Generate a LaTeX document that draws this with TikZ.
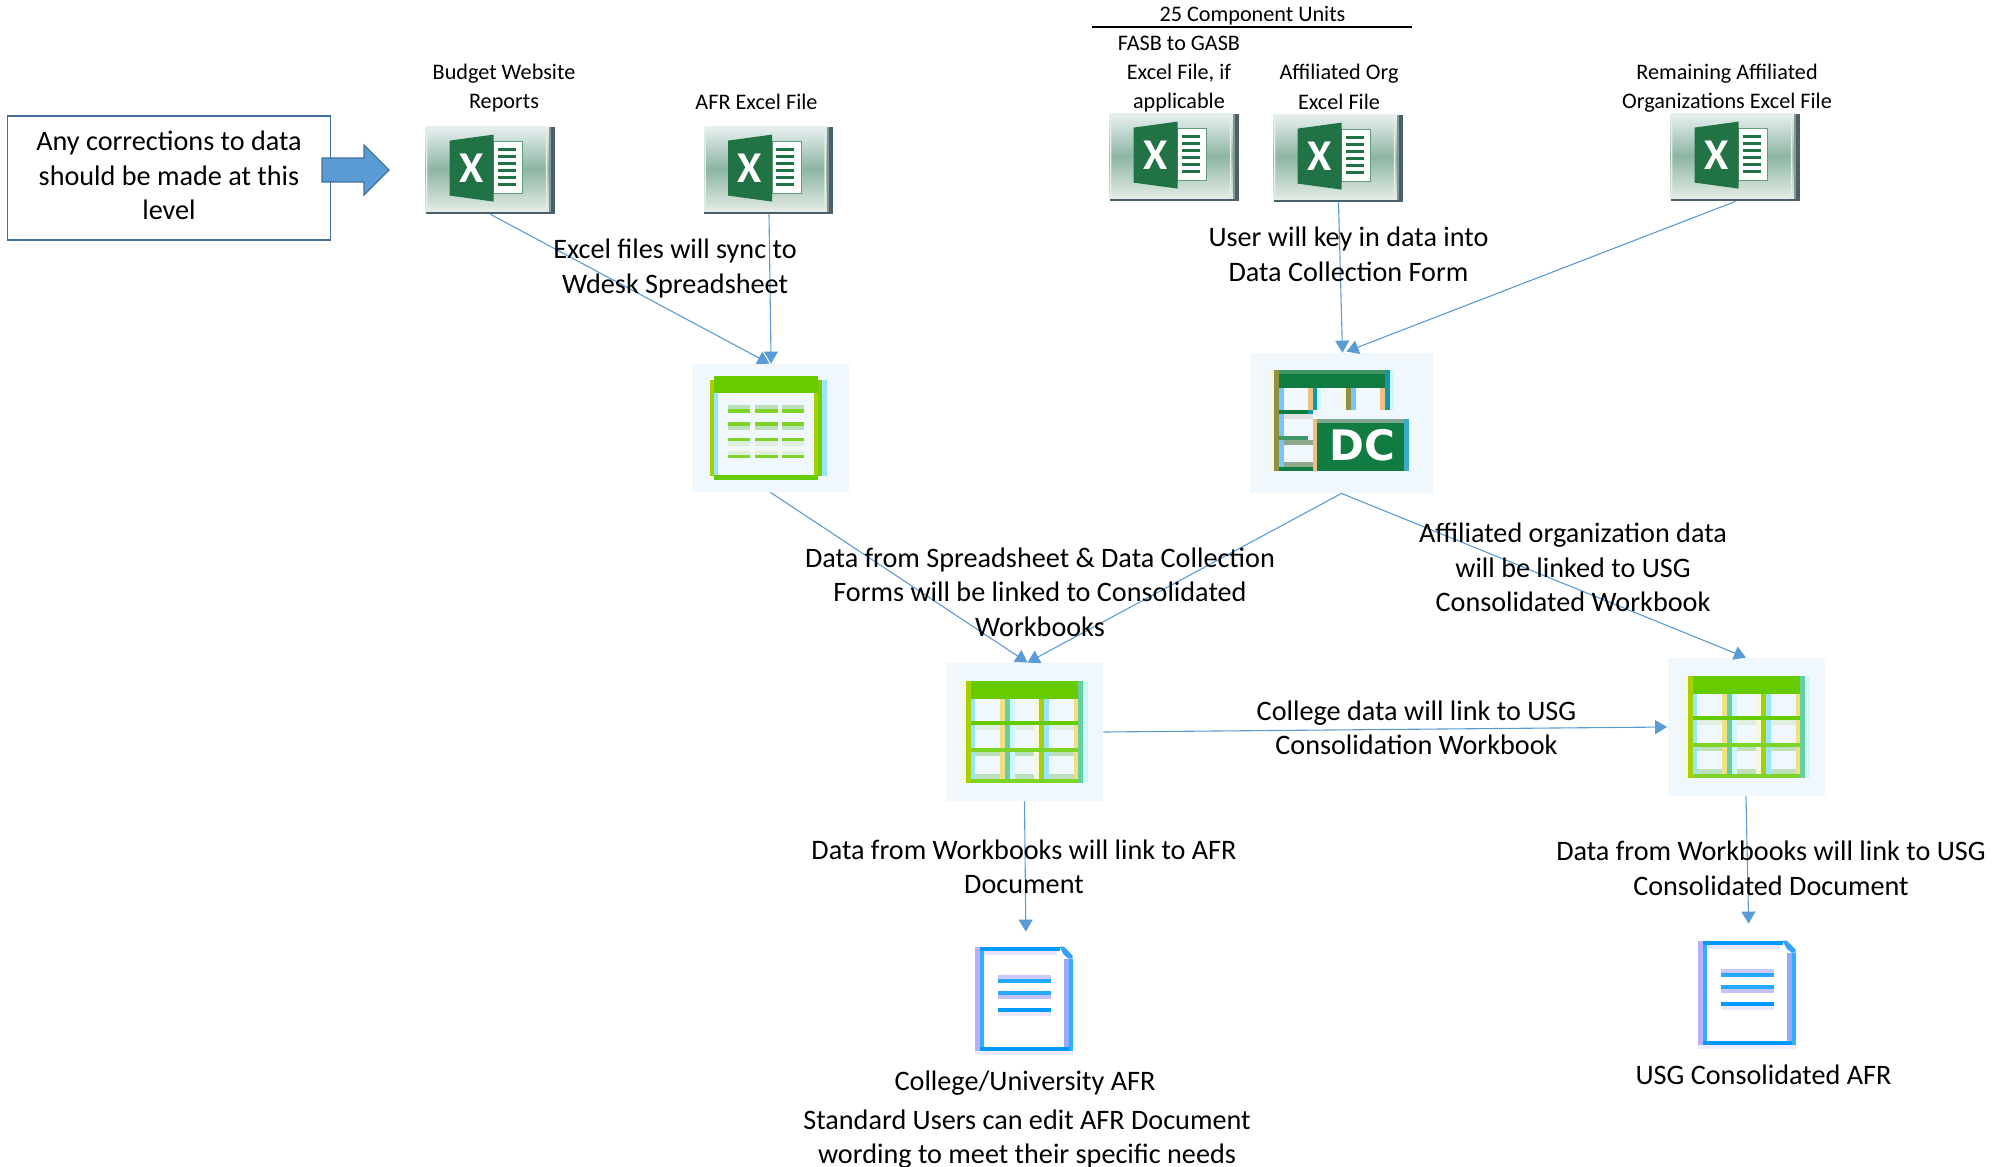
\documentclass[tikz,border=0pt]{standalone}
\usepackage{fontspec}
\setmainfont{Carlito}
\newfontfamily\dcfont{DejaVu Sans}
\usetikzlibrary{arrows.meta}
\definecolor{flow}{HTML}{5B9BD5}
\definecolor{flowedge}{HTML}{41719C}
\definecolor{paleback}{HTML}{F0F8FD}
\definecolor{xlgreen}{HTML}{217346}
\definecolor{xldark}{HTML}{4A606C}
\definecolor{xltop}{HTML}{E8F0F1}
\definecolor{xlmid}{HTML}{8DB5A3}
\definecolor{xlbot}{HTML}{E4EDE6}
\definecolor{wgreen}{HTML}{66CC00}
\definecolor{wlime}{HTML}{A8D000}
\definecolor{wcyan}{HTML}{99E5FF}
\definecolor{wpale}{HTML}{D0F8FC}
\definecolor{wlight}{HTML}{BCE0BC}
\definecolor{wteal}{HTML}{66D0A0}
\definecolor{wyel}{HTML}{F0E080}
\definecolor{dcg}{HTML}{107C41}
\definecolor{dcol}{HTML}{919040}
\definecolor{dcbl}{HTML}{77C4FF}
\definecolor{dcor}{HTML}{EEC080}
\definecolor{dcte}{HTML}{1098A8}
\definecolor{docb}{HTML}{0099FF}
\definecolor{doclav}{HTML}{B8B0F8}
\tikzset{
  x=0.5pt,y=-0.5pt,
  conn/.style={draw=flow,line width=0.55pt,-{Triangle[length=6pt,width=7pt]}},
  big/.style={inner sep=0pt,align=center,text=black,font=\fontsize{14.1}{17.3}\selectfont},
  small/.style={inner sep=0pt,align=center,text=black,font=\fontsize{11.1}{14.7}\selectfont},
  xlbox/.style={inner sep=0pt,minimum width=64.5pt,minimum height=43.5pt,draw=none},
  backbox/.style={inner sep=0pt,fill=paleback,draw=none},
  docbox/.style={inner sep=0pt,minimum width=49pt,minimum height=54pt,draw=none},
}
\newcommand{\R}[5]{\fill[#1] (#2,#3) rectangle (#4,#5);}
\newcommand{\xlicon}[3]{%
  \node[xlbox] (#1) at (#2,#3) {};
  \begin{scope}[shift={(#1.north west)}]
    \shade[top color=xltop,bottom color=xlbot,middle color=xlmid] (0,0) rectangle (123,85);
    \draw[xlbot,line width=0.7pt,rounded corners=1.5pt] (1,1) rectangle (121,83);
    \R{xlmid!60!black!70}{123}{0}{125}{85}
    \R{xldark}{125}{0}{129}{87}
    \R{xldark}{0}{85}{129}{87}
    \R{white}{68}{15}{97}{67}
    \draw[xlgreen!70!white,line width=0.5pt] (68,15) rectangle (97,67);
    \foreach \yy in {21,28,35,42,49,56}{\R{xlgreen}{72}{\yy}{90}{\yy+3.5}}
    \fill[xlgreen] (24,14) -- (68,8) -- (68,75) -- (24,69) -- cycle;
    \node[inner sep=0pt,text=white] (#1x) at (46,42) {\fontsize{22}{22}\selectfont\bfseries X};
  \end{scope}}
\newcommand{\wbicon}[5]{%
  \node[backbox,minimum width=78.5pt,minimum height=#4] (#1) at (#2,#3) {};
  \begin{scope}[shift={(#1.center)},shift={(-62.5,-#5)}]
    \R{wlime!12}{0}{0}{4}{102}
    \R{wlime}{4}{0}{9}{102}
    \R{wlight!50}{9}{44}{116}{49}
    \R{wlight}{9}{71}{116}{75}
    \R{wlight}{9}{93}{116}{98}
    \R{wgreen}{9}{0}{116}{18}
    \R{wteal}{116}{0}{121}{102}
    \R{wpale}{121}{0}{126}{102}
    \R{wcyan}{9}{18}{13}{98}
    \R{wyel}{38}{18}{43}{98}
    \R{wteal}{43}{18}{48}{98}
    \R{wpale}{48}{18}{53}{98}
    \R{wlime!15}{72}{18}{77}{98}
    \R{wlime}{77}{18}{82}{98}
    \R{wcyan}{82}{18}{87}{98}
    \R{wyel}{112}{18}{116}{98}
    \R{wgreen}{9}{40}{116}{44}
    \R{wgreen!85!white}{9}{67}{116}{71}
    \R{wgreen!85!white}{9}{98}{116}{102}
  \end{scope}}
\newcommand{\docicon}[3]{%
  \node[docbox] (#1) at (#2,#3) {};
  \begin{scope}[shift={(#1.north west)}]
    \fill[white] (5,0) -- (85,0) -- (98,12) -- (98,104) -- (5,104) -- cycle;
    \R{doclav}{0}{0}{5}{104}
    \R{docb!80!white}{5}{0}{9}{100}
    \R{docb}{5}{0}{85}{4}
    \R{doclav!35}{9}{4}{82}{8}
    \fill[docb!70!doclav] (85,0) -- (89,0) -- (98,9) -- (98,12) -- (94,12) -- (89,8) -- cycle;
    \R{doclav!80!docb}{89}{12}{94}{100}
    \R{docb!80!white}{94}{12}{98}{104}
    \R{docb}{5}{100}{94}{104}
    \R{doclav!25}{0}{104}{98}{108}
    \R{doclav!70}{23}{28}{76}{32}
    \R{docb!85!white}{23}{32}{76}{36}
    \R{docb!85!white}{23}{44}{76}{48}
    \R{doclav!80}{23}{48}{76}{52}
    \R{docb}{23}{61}{76}{65}
    \R{doclav!30}{23}{65}{76}{69}
  \end{scope}}
\begin{document}
\begin{tikzpicture}
\useasboundingbox (0,0) rectangle (2009,1167);
% corrections box and block arrow
\node[draw=flowedge,fill=white,line width=0.6pt,inner sep=0pt,minimum width=161.5pt,minimum height=62pt] (fix) at (169,178) {};
\node[inner sep=0pt,minimum width=33pt,minimum height=25pt] (blockarrow) at (355,170) {};
\draw[flowedge,fill=flow,line width=0.6pt] (322,158) -- (364,158) -- (364,145) -- (389,170) -- (364,195) -- (364,182) -- (322,182) -- cycle;
% excel icons
\xlicon{xa}{490.5}{170.5}
\xlicon{xb}{769}{170.5}
\xlicon{xc}{1174.5}{157.5}
\xlicon{xd}{1338.5}{158.5}
\xlicon{xe}{1735.5}{157.5}
% spreadsheet
\node[backbox,minimum width=78.5pt,minimum height=64pt] (ss) at (770.5,428) {};
\begin{scope}[shift={(710,376)}]
  \R{wlime}{0}{4}{4}{100}
  \R{wcyan}{4}{17}{8}{99}
  \R{wgreen}{4}{0}{108}{17}
  \R{wgreen}{4}{99}{108}{104}
  \R{wlime}{104}{17}{108}{99}
  \R{wgreen!70!wlime}{108}{4}{112}{100}
  \R{wcyan}{112}{4}{117}{100}
  \foreach \ya/\yb/\yc/\yd/\lt in {29/33/33/37/wlight,50/54/46/50/wlight,65/70/62/65/wlight!50,75/79/79/82/wlight!50}{
    \foreach \xa/\xb in {18/40,45/68,72/94}{
      \R{\lt}{\xa}{\ya}{\xb}{\yb}
      \R{wgreen!85!white}{\xa}{\yc}{\xb}{\yd}
    }}
\end{scope}
% data collection form
\node[backbox,minimum width=91.5pt,minimum height=70pt] (dc) at (1341.5,423) {};
\begin{scope}[shift={(1269.3,370)}]
  \R{wlime!12}{0}{0}{5}{101}
  \R{dcol}{5}{0}{10}{101}
  \R{dcg}{10}{0}{116}{18}
  \R{dcg!80!white}{10}{0}{116}{4}
  \R{dcte}{116}{0}{121}{40}
  \R{wpale}{121}{0}{125}{40}
  \R{dcbl}{10}{18}{15}{100}
  \R{dcor}{39}{18}{44}{40}
  \R{dcte}{44}{18}{48}{40}
  \R{wpale}{48}{18}{52}{40}
  \R{wlime!12}{72}{18}{77}{40}
  \R{dcol}{77}{18}{82}{40}
  \R{dcbl}{82}{18}{87}{40}
  \R{dcor}{111}{18}{116}{40}
  \R{dcg}{10}{40}{39}{44}
  \R{dcte}{39}{40}{44}{44}
  \R{black!12}{15}{44}{44}{49}
  \R{dcg!80!white}{10}{66}{39}{70}
  \R{black!25!wlight}{15}{70}{44}{75}
  \R{black!25!wlight}{15}{92}{44}{97}
  \R{dcg}{10}{97}{44}{101}
  \R{dcor}{44}{49}{48}{101}
  \R{dcg}{48}{49}{135}{101}
  \R{dcg!50!gray!70}{48}{49}{135}{53}
  \R{dcte!60!dcbl}{135}{49}{140}{101}
  \node[inner sep=0pt,text=white] (dctext) at (93,75) {\dcfont\fontsize{21}{21}\selectfont\bfseries DC};
\end{scope}
% workbooks
\wbicon{wa}{1024.5}{732}{69pt}{51}
\wbicon{wb}{1746}{727}{69pt}{51}
% documents
\docicon{da}{1024}{1001}
\docicon{db}{1747}{995}
% connectors
\draw[conn] (xa.south) -- ([xshift=-0.5pt]ss.north);
\draw[conn] (xb.south) -- ([xshift=0.3pt]ss.north);
\draw[conn] (xd.south) -- ([xshift=0.5pt]dc.north);
\draw[conn] (xe.south) -- ([xshift=2.5pt,yshift=0.5pt]dc.north);
\draw[conn] (ss.south) -- ([xshift=1.5pt]wa.north);
\draw[conn] (dc.south) -- ([xshift=1.5pt]wa.north);
\draw[conn] (dc.south) -- (wb.north);
\draw[conn] (wa.east) -- (wb.west);
\draw[conn,shorten >=7.5pt] (wa.south) -- ([xshift=1pt]da.north);
\draw[conn,shorten >=8.5pt] (wb.south) -- ([xshift=1pt]db.north);
% rule above the component units group
\coordinate (rulel) at (1092,27);
\coordinate (ruler) at (1412,27);
\draw[black,line width=0.6pt] (rulel) -- (ruler);
% texts
\node[big] (t1) at (169,175.5) {Any corrections to data\\should be made at this\\level};
\node[small] (t2) at (504,88) {Budget Website\\Reports};
\node[small] (t3) at (756.5,102) {AFR Excel File};
\node[small] (t4) at (1252.5,16) {25 Component Units};
\node[small] (t5) at (1179,74) {FASB to GASB\\Excel File, if\\applicable};
\node[small] (t6) at (1339,87) {Affiliated Org\\Excel File};
\node[small] (t7) at (1727,88) {Remaining Affiliated\\Organizations Excel File};
\node[big] (t8) at (675,268.5) {Excel files will sync to\\Wdesk Spreadsheet};
\node[big] (t9) at (1348.5,254.5) {User will key in data into\\Data Collection Form};
\node[big] (t10) at (1040,592) {Data from Spreadsheet \& Data Collection\\Forms will be linked to Consolidated\\Workbooks};
\node[big] (t11) at (1573,567.5) {Affiliated organization data\\will be linked to USG\\Consolidated Workbook};
\node[big] (t12) at (1416.5,728) {College data will link to USG\\Consolidation Workbook};
\node[big] (t13) at (1024,867) {Data from Workbooks will link to AFR\\Document};
\node[big] (t14) at (1771,868.5) {Data from Workbooks will link to USG\\Consolidated Document};
\node[big] (t15) at (1025,1083.5) {College/University AFR};
\node[big] (t16) at (1027,1139) {Standard Users can edit AFR Document\\wording to meet their specific needs};
\node[big] (t17) at (1763.5,1074.5) {USG Consolidated AFR};
\end{tikzpicture}
\end{document}
